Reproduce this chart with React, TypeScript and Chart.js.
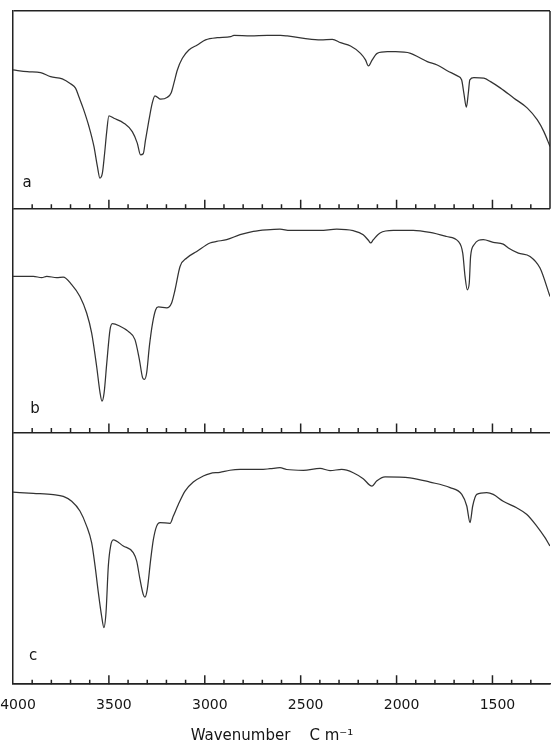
import React, { useEffect, useRef } from "react";
import { Chart, registerables } from "chart.js";

Chart.register(...registerables);

// ---- data ----
const PANEL_LABELS = ["a", "b", "c"];
const X_TICK_LABELS = [4000, 3500, 3000, 2500, 2000, 1500];
const X_MIN = 1200;
const X_MAX = 4000;
const MINOR_STEP = 100;
const AXIS_TITLE = "Wavenumber    C m\u207B\u00B9    ";

const WN_A = [4000, 3925, 3856, 3804, 3743, 3700, 3674, 3656, 3633, 3604, 3578, 3560, 3547, 3534, 3522, 3512, 3500, 3474, 3422, 3378, 3352, 3335, 3321, 3309, 3291, 3274, 3260, 3230, 3195, 3175, 3161, 3143, 3117, 3083, 3039, 2996, 2935, 2865, 2848, 2761, 2674, 2605, 2570, 2483, 2396, 2335, 2292, 2240, 2188, 2162, 2147, 2127, 2101, 2048, 2005, 1927, 1884, 1840, 1788, 1736, 1683, 1661, 1649, 1636, 1626, 1618, 1597, 1545, 1510, 1458, 1388, 1318, 1266, 1232, 1200];
const T_A = [70.2, 69.3, 68.8, 66.8, 65.7, 63.2, 61.0, 56.5, 50.5, 41.6, 31.5, 21.4, 15.5, 18.0, 28.3, 38.4, 47.0, 45.8, 43.3, 39.0, 33.2, 27.3, 27.8, 34.8, 44.9, 53.4, 57.1, 55.4, 56.4, 58.7, 63.5, 70.2, 76.1, 80.3, 82.8, 85.4, 86.5, 87.0, 87.7, 87.4, 87.7, 87.7, 87.4, 86.2, 85.4, 85.7, 84.0, 82.3, 78.6, 75.3, 72.2, 75.3, 78.6, 79.4, 79.4, 78.6, 76.6, 74.4, 72.7, 69.8, 67.2, 65.2, 58.4, 51.4, 58.4, 65.2, 66.3, 66.0, 64.3, 61.0, 55.9, 50.9, 44.9, 39.0, 31.5];

const WN_B = [4000, 3894, 3850, 3824, 3772, 3738, 3694, 3651, 3616, 3590, 3564, 3546, 3536, 3525, 3511, 3494, 3482, 3442, 3399, 3364, 3341, 3324, 3315, 3303, 3289, 3272, 3256, 3242, 3199, 3173, 3155, 3129, 3094, 3042, 2973, 2938, 2886, 2816, 2747, 2677, 2608, 2556, 2399, 2312, 2226, 2174, 2146, 2135, 2121, 2086, 2017, 1913, 1826, 1739, 1678, 1655, 1643, 1631, 1621, 1614, 1596, 1548, 1496, 1444, 1417, 1365, 1304, 1252, 1200];
const T_B = [69.8, 69.8, 69.2, 69.8, 69.2, 69.5, 66.1, 60.8, 53.4, 44.5, 29.6, 17.7, 14.0, 17.7, 31.1, 46.0, 48.7, 47.5, 45.2, 41.5, 32.6, 24.4, 23.7, 26.7, 38.5, 49.0, 54.9, 56.1, 55.7, 57.9, 63.8, 74.2, 78.0, 80.9, 84.7, 85.4, 86.2, 88.4, 89.9, 90.6, 90.9, 90.3, 90.3, 90.9, 90.2, 88.4, 85.8, 84.7, 86.2, 89.2, 90.3, 90.3, 89.4, 87.6, 85.4, 80.2, 69.8, 63.8, 66.8, 78.7, 83.9, 86.2, 85.0, 84.2, 82.5, 80.2, 78.7, 73.5, 60.8];

const WN_C = [4000, 3894, 3790, 3738, 3694, 3651, 3616, 3590, 3572, 3555, 3538, 3526, 3515, 3503, 3491, 3477, 3425, 3373, 3355, 3338, 3321, 3312, 3300, 3282, 3268, 3251, 3234, 3181, 3164, 3138, 3103, 3060, 3008, 2973, 2921, 2869, 2816, 2712, 2660, 2608, 2573, 2486, 2399, 2347, 2286, 2226, 2174, 2128, 2104, 2060, 1930, 1826, 1721, 1660, 1634, 1617, 1603, 1582, 1530, 1496, 1444, 1374, 1322, 1269, 1226, 1200];
const T_C = [76.3, 75.8, 75.3, 74.6, 72.7, 68.8, 62.8, 56.2, 46.9, 36.4, 27.1, 22.5, 28.5, 46.9, 54.9, 57.3, 54.9, 52.3, 48.9, 41.7, 35.7, 34.6, 37.7, 49.6, 57.5, 62.8, 64.2, 63.9, 66.8, 71.4, 76.7, 80.3, 82.7, 83.7, 84.2, 85.0, 85.3, 85.3, 85.6, 86.0, 85.3, 85.0, 85.7, 84.9, 85.3, 84.0, 81.6, 78.7, 80.7, 82.4, 82.0, 80.3, 78.1, 75.4, 70.8, 64.2, 70.8, 75.4, 76.1, 75.4, 72.7, 70.1, 67.5, 62.8, 58.2, 54.9];

// ---- style ----
const FRAME = "#222222";
const TRACE = "#333333";
const TEXT = "#151515";
const FONT = "'DejaVu Sans', sans-serif";
const PANEL_IDS = ["ya", "yb", "yc"];
const PANEL_WEIGHTS = [198, 224, 252];
const LABEL_OFFSETS = [
  [14, 22],
  [22, 19.5],
  [20, 24],
];

const framePlugin = {
  id: "irFrame",
  afterDraw(chart: any) {
    const ctx = chart.ctx;
    const xs = chart.scales.x;
    const { right, left } = chart.chartArea;
    ctx.save();
    ctx.strokeStyle = FRAME;
    ctx.lineWidth = 1.5;
    PANEL_IDS.forEach((id, i) => {
      const ys = chart.scales[id];
      const bottom = ys.getPixelForValue(0);
      ctx.beginPath();
      for (let v = X_MIN + MINOR_STEP; v < X_MAX; v += MINOR_STEP) {
        const px = xs.getPixelForValue(v);
        const len = X_TICK_LABELS.includes(v) ? 9 : 4.5;
        ctx.moveTo(px, bottom);
        ctx.lineTo(px, bottom - len);
      }
      ctx.stroke();
      ctx.fillStyle = TEXT;
      ctx.font = "15px " + FONT;
      ctx.textAlign = "center";
      ctx.textBaseline = "alphabetic";
      ctx.fillText(PANEL_LABELS[i], left + LABEL_OFFSETS[i][0], bottom - LABEL_OFFSETS[i][1]);
    });
    const ya = chart.scales.ya;
    ctx.beginPath();
    ctx.moveTo(right, ya.top);
    ctx.lineTo(right, ya.bottom);
    ctx.stroke();
    ctx.restore();
  },
};

function yScale(i: number) {
  return {
    type: "linear",
    position: "left",
    stack: "panels",
    stackWeight: PANEL_WEIGHTS[i],
    min: 0,
    max: 100,
    afterBuildTicks: (s: any) => {
      s.ticks = i === 0 ? [{ value: 0 }, { value: 100 }] : [{ value: 0 }];
    },
    ticks: { display: false },
    grid: { display: true, drawOnChartArea: true, drawTicks: false, color: FRAME, lineWidth: 1.5 },
    border: { display: true, color: FRAME, width: 1.5 },
  };
}

function series(wn: number[], t: number[]) {
  return wn.map((x, i) => ({ x, y: t[i] }));
}

export default function App() {
  const ref = useRef<HTMLCanvasElement>(null);
  useEffect(() => {
    if (!ref.current) return;
    const dsBase = {
      borderColor: TRACE,
      borderWidth: 1.25,
      pointRadius: 0,
      cubicInterpolationMode: "monotone",
      fill: false,
      xAxisID: "x",
    };
    const chart = new Chart(ref.current, {
      type: "line",
      data: {
        datasets: [
          { ...dsBase, label: "a", data: series(WN_A, T_A), yAxisID: "ya" },
          { ...dsBase, label: "b", data: series(WN_B, T_B), yAxisID: "yb" },
          { ...dsBase, label: "c", data: series(WN_C, T_C), yAxisID: "yc" },
        ],
      } as any,
      options: {
        animation: false,
        responsive: false,
        events: [],
        layout: { padding: { left: 33, right: 1, top: 11, bottom: 0 } },
        plugins: { legend: { display: false }, tooltip: { enabled: false } },
        scales: {
          x: {
            type: "linear",
            reverse: true,
            min: X_MIN,
            max: X_MAX,
            position: "bottom",
            afterBuildTicks: (s: any) => {
              s.ticks = X_TICK_LABELS.map((v) => ({ value: v }));
            },
            grid: { display: false, drawTicks: false },
            border: { display: true, color: FRAME, width: 1.5 },
            ticks: {
              padding: 13,
              labelOffset: 5,
              color: TEXT,
              maxRotation: 0,
              autoSkip: false,
              font: { family: FONT, size: 14 },
              callback: (v: any) => String(v),
            },
            title: {
              display: true,
              text: AXIS_TITLE,
              color: TEXT,
              font: { family: FONT, size: 15 },
              padding: { top: 0, bottom: 0 },
            },
          },
          // stacked axes are placed top-to-bottom in reverse definition order
          yc: yScale(2),
          yb: yScale(1),
          ya: yScale(0),
        } as any,
      },
      plugins: [framePlugin],
    });
    return () => chart.destroy();
  }, []);
  return (
    <div style={{ position: "fixed", left: -20, top: 0, width: 571, height: 745, background: "#fff" }}>
      <canvas ref={ref} width={571} height={745} style={{ display: "block" }} />
    </div>
  );
}
